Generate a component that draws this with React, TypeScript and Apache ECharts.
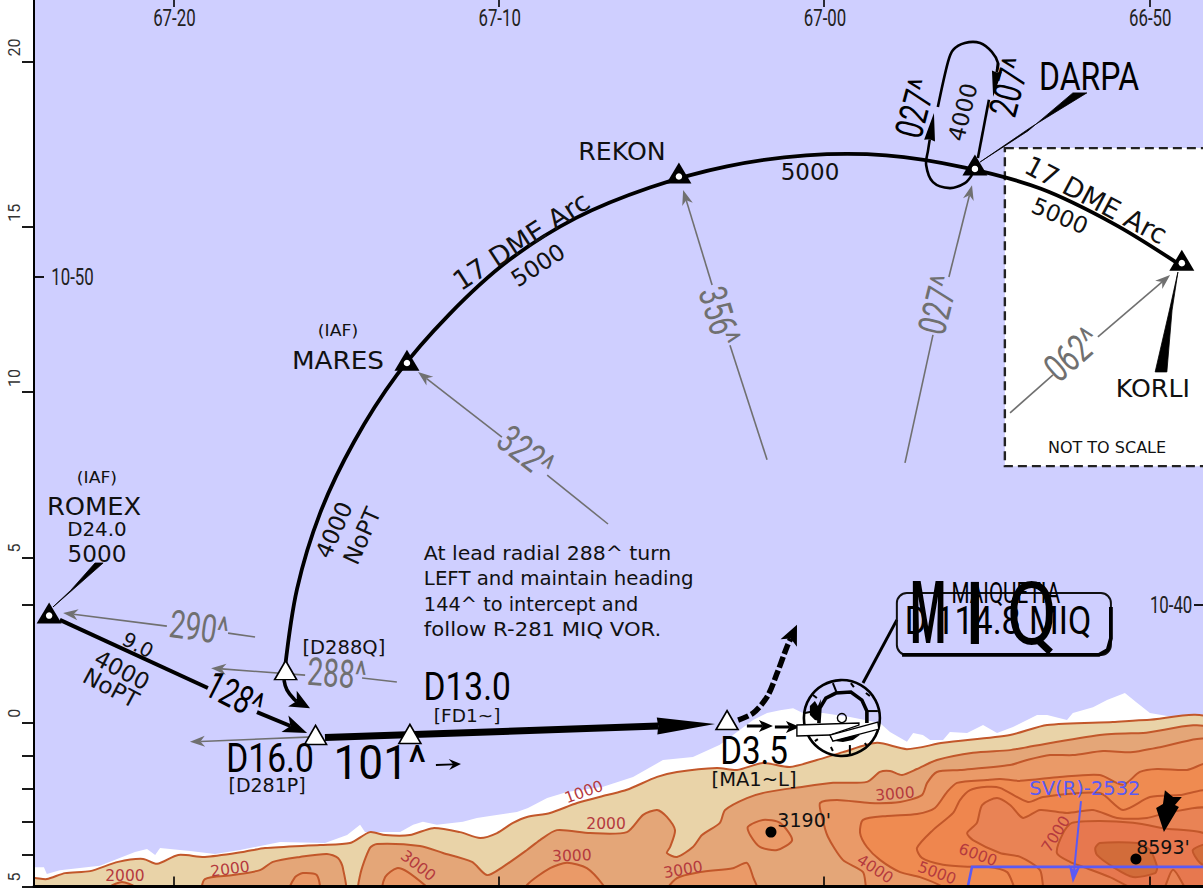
import React, { useEffect, useRef } from "react";
import * as echarts from "echarts";

type P = number[];

// ---- axes (longitude / latitude minutes) ----
const lonTicks = [-20, -10, 0, 10];
const lonTickLabels = ["67-20", "67-10", "67-00", "66-50"];
const lonLabelLat = 21.32;
const latLabelTicks = [20, 15, 10, 5, 0, -4.955];
const latTicks = [20, 15, 10, 5, 3.56, 0, -1, -2, -3, -4, -4.955];
const lat1050 = 13.48;
const lat1040 = 3.56;
const latMinuteTexts: any[][] = [[-23.1, lat1050, "10-50"], [10.67, lat1040, "10-40"]];

// ---- terrain ----
const coastWhite: P[] = [[-24.28,-4.37],[-23.98,-4.37],[-23.89,-4.58],[-23.49,-4.46],[-22.26,-4.33],[-21.18,-3.91],[-20.81,-3.82],[-20.56,-4.0],[-20.41,-3.79],[-19.49,-3.88],[-18.72,-3.97],[-17.95,-3.85],[-16.72,-3.61],[-15.34,-3.64],[-14.66,-3.4],[-14.26,-3.09],[-14.11,-3.31],[-13.03,-3.31],[-12.63,-3.09],[-12.33,-3.0],[-11.9,-3.09],[-11.1,-3.0],[-10.67,-2.88],[-10.27,-2.82],[-9.44,-2.7],[-9.1,-2.58],[-8.51,-2.28],[-7.9,-2.1],[-6.79,-1.94],[-5.87,-1.64],[-4.95,-1.13],[-4.03,-1.04],[-3.2,-0.67],[-2.18,0.08],[-1.75,0.29],[-1.35,0.38],[-0.95,0.44],[-0.65,0.29],[-0.03,0.29],[0.8,0.17],[1.72,-0.01],[2.03,-0.28],[2.55,-0.58],[2.74,-0.31],[3.04,-0.37],[3.26,-0.52],[3.66,-0.52],[3.87,-0.28],[4.4,-0.31],[4.89,-0.07],[5.32,-0.31],[5.81,-0.13],[6.55,0.23],[6.86,0.23],[7.47,0.08],[7.65,0.29],[8.27,0.47],[8.7,0.69],[9.25,0.9],[9.62,0.6],[10.02,0.29],[10.73,0.17],[11.87,0.17],[12,-5.5],[-24.5,-5.5]];
const band1000: P[] = [[-24.5,-4.7],[-24.25,-4.7],[-23.89,-4.73],[-23.33,-4.55],[-22.56,-4.49],[-21.7,-4.21],[-20.93,-4.12],[-20.5,-4.27],[-19.85,-4.0],[-19.03,-4.06],[-17.86,-3.91],[-17.18,-3.79],[-15.49,-3.7],[-14.57,-3.64],[-13.96,-3.31],[-13.49,-3.4],[-12.73,-3.4],[-12.02,-3.19],[-11.19,-3.31],[-10.57,-3.49],[-10.05,-3.34],[-9.56,-3.03],[-9.13,-2.85],[-8.42,-2.73],[-7.59,-2.43],[-6.67,-2.19],[-6.06,-2.03],[-5.13,-1.64],[-4.52,-1.49],[-3.29,-1.37],[-2.67,-1.43],[-1.88,-1.22],[-1.05,-1.34],[-0.22,-1.13],[0.58,-0.89],[1.63,-0.61],[2.55,-0.8],[3.66,-0.61],[5.72,-0.37],[6.86,-0.07],[8.88,0.02],[9.93,0.08],[11.87,0.08],[12,-5.5],[-24.5,-5.5]];
const hill2000a: P[] = [[-21.95,-5.2],[-21.95,-4.97],[-21.58,-4.82],[-21.18,-4.97],[-21.18,-5.2]];
const hill2000b: P[] = [[-19.09,-5.2],[-19.03,-4.73],[-18.17,-4.61],[-17.34,-4.46],[-16.94,-4.21],[-16.11,-4.06],[-15.28,-3.97],[-14.94,-4.09],[-14.79,-4.39],[-14.76,-5.2]];
const band2000: P[] = [[-14.26,-5.2],[-14.26,-4.61],[-13.96,-3.79],[-13.74,-3.67],[-12.42,-3.73],[-11.71,-3.94],[-10.82,-4.21],[-10.36,-4.61],[-9.87,-4.36],[-9.13,-3.85],[-8.73,-3.55],[-8.21,-3.25],[-7.19,-3.34],[-6.06,-3.31],[-5.56,-2.79],[-5.13,-2.64],[-4.83,-2.85],[-4.58,-3.25],[-4.73,-3.76],[-4.83,-3.94],[-4.52,-4.06],[-4.03,-3.76],[-3.75,-3.4],[-3.2,-3.03],[-3.04,-2.64],[-2.37,-2.28],[-1.75,-2.1],[-0.74,-1.95],[0.28,-1.82],[1.32,-1.79],[1.72,-1.49],[2.03,-1.46],[2.4,-1.58],[2.86,-1.4],[3.47,-1.13],[4.58,-0.91],[5.72,-0.83],[6.24,-0.74],[8.48,-0.37],[9.81,-0.31],[11.87,-0.22],[12,-5.5]];
const hill3000a: P[] = [[-16.48,-5.2],[-16.26,-4.67],[-16.02,-4.55],[-15.59,-4.61],[-15.52,-5.2]];
const hill3000b: P[] = [[-13.56,-5.2],[-13.49,-4.67],[-13.13,-4.4],[-12.79,-4.52],[-12.2,-4.97],[-11.96,-5.2]];
const hill3000c: P[] = [[-9.13,-5.2],[-9.13,-4.91],[-8.42,-4.4],[-7.9,-4.24],[-7.29,-4.4],[-6.79,-4.91],[-6.67,-5.2]];
const hill3000d: P[] = [[-4.89,-5.2],[-4.52,-4.7],[-3.81,-4.52],[-2.8,-4.4],[-2.37,-4.24],[-2.18,-4.67],[-2.03,-5.2]];
const hill3190: P[] = [[-2.34,-3.15],[-1.88,-2.94],[-1.35,-3.03],[-0.98,-3.55],[-1.44,-3.85],[-1.97,-3.76],[-2.27,-3.4]];
const band3000: P[] = [[1.41,-5.2],[1.2,-4.52],[0.58,-4.15],[0.12,-3.45],[-0.06,-2.85],[-0.12,-2.43],[0.4,-2.34],[1.41,-2.43],[2.34,-2.4],[3.01,-2.19],[3.17,-1.82],[3.47,-1.49],[4.18,-1.43],[5.72,-1.28],[6.24,-1.13],[6.95,-0.98],[7.65,-0.98],[8.58,-0.86],[9.5,-0.89],[10.33,-0.74],[11.87,-0.58],[12,-5.5]];
const band4000: P[] = [[1.11,-3.34],[1.2,-2.94],[1.94,-2.82],[2.86,-2.76],[3.41,-2.58],[3.78,-2.1],[4.09,-1.82],[5.01,-1.73],[5.41,-1.7],[6.03,-1.76],[7.25,-1.64],[8.48,-1.58],[9.19,-1.88],[9.71,-1.49],[10.24,-1.4],[11.16,-1.43],[11.87,-1.25],[12,-5.5],[3.87,-5.2],[3.66,-4.97],[2.95,-4.67],[2.34,-4.52],[1.72,-4.15],[1.32,-3.76]];
const band5000: P[] = [[2.86,-3.79],[3.35,-3.25],[3.97,-2.73],[4.18,-2.34],[4.49,-2.04],[5.01,-1.94],[5.41,-1.97],[6.27,-2.4],[6.73,-2.25],[8.48,-2.13],[9.19,-2.64],[10.02,-2.25],[10.94,-2.19],[11.87,-2.1],[12,-5.5],[6.03,-5.2],[5.63,-4.52],[5.01,-4.36],[4.4,-4.36],[3.66,-4.3],[3.01,-4.09]];
const band6000: P[] = [[4.4,-3.34],[4.7,-3.03],[4.86,-2.49],[5.32,-2.28],[5.72,-2.49],[6.12,-2.88],[6.64,-2.64],[7.47,-2.73],[8.27,-2.64],[9.01,-2.88],[9.93,-2.88],[10.54,-2.73],[11.87,-2.64],[12,-5.5],[6.86,-5.2],[6.64,-4.46],[6.03,-4.06],[5.41,-3.94],[4.58,-3.55]];
const band7000: P[] = [[7.16,-3.94],[7.35,-3.34],[7.62,-3.03],[8.48,-2.97],[9.5,-3.03],[10.42,-3.19],[11.87,-3.46],[12,-5.5],[11.25,-5.2],[10.73,-4.45],[10.33,-5.2],[9.41,-4.97],[8.79,-4.67],[7.96,-4.36],[7.56,-4.21]];
const hill8000a: P[] = [[8.34,-3.79],[8.48,-3.64],[9.62,-3.64],[10.02,-3.85],[10.24,-4.36],[10.18,-4.55],[9.5,-4.67],[8.88,-4.36],[8.39,-4.0]];
const hill8000b: P[] = [[12,-3.64],[11.34,-3.85],[11.56,-4.24],[12,-4.4]];

// ---- route geometry ----
const dmeArc: P[] = [[-16.57,1.65],[-16.2,4.04],[-15.49,6.34],[-14.45,8.49],[-13.13,10.52],[-11.54,12.33],[-9.71,13.97],[-7.62,15.27],[-5.35,16.19],[-2.98,16.83],[-0.55,17.16],[1.91,17.16],[4.33,16.79],[6.67,16.15],[8.91,15.09],[10.85,13.91]];
const romexLegA: P[] = [[-23.49,3.11],[-18.94,1.05]];
const romexLegB: P[] = [[-17.43,0.32],[-15.89,-0.31]];
const turnIn: P[] = [[-16.6,1.29],[-16.51,0.99],[-16.27,0.69],[-15.8,0.44]];
const finalLeg: P[] = [[-15.34,-0.45],[-5.1,-0.1],[-3.35,-0.04]];
const missedLeg: P[] = [[-2.64,0.08],[-2.18,0.29],[-1.75,0.78],[-1.44,1.5],[-1.14,2.29],[-0.83,2.96]];
const flow1: P[] = [[-2.37,-0.1],[-1.57,-0.1]];
const flow2: P[] = [[-1.51,-0.13],[-0.74,-0.13]];
const flow3: P[] = [[-11.93,-1.28],[-11.16,-1.25]];
const holdOut: P[] = [[3.5,18.62],[3.81,19.98],[3.97,20.35],[4.33,20.56],[4.8,20.56],[5.16,20.29],[5.35,19.95],[5.32,19.74],[5.2,18.93]];
const holdRight: P[] = [[5.07,18.84],[4.73,17.08]];
const holdIn: P[] = [[4.55,16.57],[4.33,16.32],[3.87,16.17],[3.35,16.35],[3.14,16.87],[3.2,17.32],[3.38,18.44]];
const gray290: P[][] = [[[-17.49,2.59],[-18.32,2.71]],[[-20.2,2.92],[-23.39,3.32]]];
const gray288: P[][] = [[[-13.13,1.23],[-14.2,1.35]],[[-15.95,1.44],[-18.84,1.65]]];
const gray281: P[] = [[-15.71,-0.43],[-19.49,-0.58]];
const gray322: P[][] = [[[-6.64,6.01],[-8.51,7.49]],[[-9.9,8.64],[-12.48,10.61]]];
const gray356: P[][] = [[[-1.75,7.95],[-2.89,11.42]],[[-3.44,13.24],[-4.33,16.11]]];
const gray027: P[][] = [[[2.49,7.86],[3.35,11.73]],[[3.84,13.48],[4.55,16.26]]];
const gray062: P[][] = [[[5.72,9.37],[7.04,10.52]],[[8.42,11.67],[10.64,13.54]]];
const romexFeather: P[] = [[-23.7,3.5],[-23.06,4.05],[-22.16,4.83],[-22.41,4.83],[-23.16,4.0]];
const darpaFeather: P[] = [[4.8,16.96],[6.36,18.01],[8.08,19.05],[7.65,19.05],[6.27,17.9]];
const korliFeather: P[] = [[10.88,13.63],[10.7,12.48],[10.54,10.61],[10.18,10.61],[10.62,12.48]];
const notchArrow: P[] = [[10.48,-2.04],[10.73,-2.25],[11,-2.25],[10.79,-2.49],[10.91,-2.55],[10.45,-3.31],[10.21,-2.58],[10.42,-2.46]];
const insetBox: P[] = [[5.56,17.38],[12.2,17.38],[12.2,7.76],[5.56,7.76]];
const vorLeader: P[] = [[1.2,1.2],[2.24,3.11]];
const freqBoxCorners: P[] = [[2.24,3.92],[8.82,2.05]];
const freqBoxHeavy: P[] = [[2.4,2.05],[8.45,2.05],[8.72,2.2],[8.82,2.55],[8.82,3.5]];
const sectorLine: P[] = [[4.4,-5.06],[4.55,-4.36],[11.87,-4.36]];
const sectorArrow: P[] = [[7.9,-2.37],[7.65,-4.85]];
const vorCentre: P[] = [[0.55, 0.14]];

// ---- points ----
const fixes: P[] = [[-23.82,3.32],[-12.82,10.96],[-4.46,16.63],[4.64,16.87],[11,13.99]];
const fixCentres: P[] = [[-23.82,3.24],[-12.82,10.88],[-4.46,16.52],[4.64,16.75],[11,13.9]];
const stepdowns: P[] = [[-16.55,1.59],[-15.63,-0.37],[-12.73,-0.34],[-2.98,0.08]];
const spotHeights: P[] = [[-1.63,-3.31],[9.59,-4.12]];

// ---- texts: [lon, lat, text] ----
const plainTexts: any[][] = [
  [-14.94,11.85,"(IAF)"],[-14.94,10.97,"MARES"],[-22.35,7.4,"(IAF)"],[-22.44,6.56,"ROMEX"],[-22.35,5.83,"D24.0"],[-22.35,5.1,"5000"],
  [-6.21,17.27,"REKON"],[-9.31,14.57,"17 DME Arc"],[-8.79,13.84,"5000"],[-0.43,16.66,"5000"],[8.36,15.81,"17 DME Arc"],[7.25,15.33,"5000"],
  [-15.06,5.83,"4000"],[-14.2,5.65,"NoPT"],[-21.09,2.35,"9.0"],[-21.58,1.59,"4000"],[-21.92,1.05,"NoPT"],
  [-14.76,2.26,"[D288Q]"],[-17.12,-1.88,"[D281P]"],[-10.97,0.23,"[FD1~]"],[-2.15,-1.73,"[MA1~L]"],
  [10.11,10.09,"KORLI"],[8.7,8.31,"NOT TO SCALE"],[4.27,18.47,"4000"],[-0.61,-2.94,"3190'"],[10.42,-3.76,"8593'"],
];
// size, rotation, x stretch for plainTexts, same order
const plainLook: number[][] = [
  [15,0,1.15],[25,0,1.05],[15,0,1.15],[25,0,1.03],[19.5,0,1.02],[22.5,0,1.03],
  [24.5,0,1.03],[27,33,1],[23,33,1],[23,0,1],[27,-28,1],[23,-23,1],
  [23,66,1],[23,66,1],[20,-28,1],[23,-28,1],[23,-28,1],
  [19.5,0,1],[19,0,1],[18.5,0,1],[19.5,0,1],
  [24.5,0,1.03],[16,0,1],[23,76,1],[19,0,1],[19,0,1],
];
const noteLines = ["At lead radial 288^ turn","LEFT and maintain heading","144^ to intercept and","follow R-281 MIQ VOR."];
const noteLon = -12.3;
const noteLats = [5.1,4.35,3.59,2.83];
const noteStretch = [1.1,1.063,1.04,1.14];
const sectorText: any[] = [8.02,-1.98,"SV(R)-2532"];
const contourTexts: any[][] = [[-21.49,-4.64,"2000"],[-18.26,-4.43,"2000"],[-12.48,-4.33,"3000"],[-7.38,-2.1,"1000"],[-6.7,-3.06,"2000"],[-7.75,-4.03,"3000"],[-4.33,-4.45,"3000"],[2.18,-2.16,"3000"],[1.57,-4.43,"4000"],[3.47,-4.55,"5000"],[4.73,-4,"6000"],[7.13,-3.37,"7000"]];
const contourRot = [0,8,-38,20,0,2,10,5,-33,-20,-20,58];
const bearingTexts: any[][] = [[-19.21,2.89,"290^"],[-14.97,1.5,"288^"],[-9.16,8.19,"322^"],[-3.2,12.3,"356^"],[3.5,12.64,"027^"],[7.62,11.15,"062^"]];
const bearingRot = [-8,-4,-38,-73,76,41];
const courseTexts: any[][] = [[-18.11,0.84,"128^"],[2.8,18.59,"027^"],[5.69,19.23,"207^"]];
const courseRot = [-27,75,75];
const narrowTexts: any[][] = [[8.15,19.53,"DARPA"],[-17.03,-1.07,"D16.0"],[-13.65,-1.19,"101^"],[-10.97,1.08,"D13.0"],[-2.15,-0.83,"D3.5"],[5.59,3.95,"MAIQUETIA"],[5.35,3.08,"D 114.8 MIQ"],[3.2,3.29,"M"],[4.64,3.29,"I"],[6.39,3.29,"Q"]];
const narrowLook: number[][] = [[39,0.82],[40,0.84],[49,0.9],[39,0.86],[39,0.85],[30,0.69],[39,0.87],[87,0.47],[87,1],[87,0.85]];

const X_MIN = -24.285, X_MAX = 11.651, Y_MIN = -4.955, Y_MAX = 21.86;
const NARROW = "Roboto";
const WIDE = "'DejaVu Sans'";
const LINE_ORANGE = "#C2572A";
const CONTOUR_RED = "#B53A3E";
const BLUE = "#5A5AF5";
const GRAY = "#707070";

const px = (api: any, pts: P[]) => pts.map((p) => api.coord(p));

function head(tip: number[], prev: number[], len: number, half: number, notch: number) {
  const dx = tip[0] - prev[0], dy = tip[1] - prev[1];
  const d = Math.hypot(dx, dy) || 1;
  const ux = dx / d, uy = dy / d;
  const bx = tip[0] - ux * len, by = tip[1] - uy * len;
  const nx = tip[0] - ux * len * (1 - notch), ny = tip[1] - uy * len * (1 - notch);
  return {
    points: [tip, [bx - uy * half, by + ux * half], [nx, ny], [bx + uy * half, by - ux * half]],
    back: [nx, ny],
  };
}

type Draw = (api: any) => any;
interface Shape { at: P; draw: Draw }

const fillShape = (pts: P[], fill: string, stroke: string | null, lineWidth = 2, smooth = 0.25): Shape => ({
  at: pts[0],
  draw: (api) => ({
    type: "polygon",
    shape: { points: px(api, pts), smooth },
    style: { fill, stroke: stroke ?? "none", lineWidth, lineJoin: "round" },
  }),
});

const stroke = (pts: P[], color: string, lineWidth: number, smooth = 0, dash?: number[]): Shape => ({
  at: pts[0],
  draw: (api) => ({
    type: "polyline",
    shape: { points: px(api, pts), smooth },
    style: { fill: "none", stroke: color, lineWidth, lineDash: dash, lineCap: "butt" },
  }),
});

const arrow = (pts: P[], color: string, lineWidth: number, len: number, half: number, notch: number, smooth = 0, dash?: number[]): Shape => ({
  at: pts[0],
  draw: (api) => {
    const q = px(api, pts);
    const h = head(q[q.length - 1], q[q.length - 2], len, half, notch);
    const line = q.slice(0, -1).concat([h.back]);
    return {
      type: "group",
      children: [
        { type: "polyline", shape: { points: line, smooth }, style: { fill: "none", stroke: color, lineWidth, lineDash: dash, lineCap: "butt" } },
        { type: "polygon", shape: { points: h.points }, style: { fill: color } },
      ],
    };
  },
});

const label = (t: any[], size: number, rot: number, sx: number, color: string, font: string, align = "center", weight = "normal"): Shape => ({
  at: [t[0], t[1]],
  draw: (api) => {
    const c = api.coord([t[0], t[1]]);
    return {
      type: "text",
      x: c[0],
      y: c[1],
      rotation: (rot * Math.PI) / 180,
      scaleX: sx,
      style: { text: t[2], fontFamily: font, fontSize: size, fontWeight: weight, fill: color, align, verticalAlign: "middle" },
    };
  },
});

const vorGlyph: Shape = {
  at: vorCentre[0],
  draw: (api) => {
    const c = api.coord(vorCentre[0]);
    const ln = (a: number[], b: number[], w = 2) => ({ type: "line", shape: { x1: a[0], y1: a[1], x2: b[0], y2: b[1] }, style: { stroke: "#000", lineWidth: w } });
    const spokes = [[[-9,-35],[-5,-25]],[[36,-7],[25,-7]],[[-37,-5],[-22,-8]],[[8,27],[8,37]],[[-29,-23],[-25,-20]],[[9,-35],[12,-31]],[[24,-25],[28,-22]],[[23,25],[25,28]],[[-11,29],[-9,33]],[[-27,23],[-24,21]]];
    return {
      type: "group",
      x: c[0],
      y: c[1],
      children: [
        { type: "circle", shape: { cx: 0, cy: 0, r: 38 }, style: { fill: "none", stroke: "#000", lineWidth: 2.6 } },
        { type: "polyline", shape: { points: [[-23,5],[-22,-10],[-16,-20],[-6,-25],[9,-26],[20,-18],[25,-7],[25,5]] }, style: { fill: "none", stroke: "#000", lineWidth: 3.6 } },
        ...spokes.map((s) => ln(s[0], s[1])),
        { type: "polygon", shape: { points: [[-32,-12],[-27,-17],[-24,-12],[-21,-19],[-22,3],[-27,2],[-32,-3]] }, style: { fill: "#000" } },
        { type: "polygon", shape: { points: [[-12,19],[18,17],[11,22],[1,24],[-7,23]] }, style: { fill: "#000" } },
        { type: "polygon", shape: { points: [[-45,7],[17,5],[17,7],[-12,17],[-45,18]] }, style: { fill: "#fff", stroke: "#000", lineWidth: 1.4 } },
        { type: "polygon", shape: { points: [[-12,17],[36,4],[37,11],[-9,23]] }, style: { fill: "#fff", stroke: "#000", lineWidth: 1.4 } },
        { type: "circle", shape: { cx: 0, cy: 0, r: 4.5 }, style: { fill: "none", stroke: "#000", lineWidth: 1.4 } },
      ],
    };
  },
};

const freqBox: Shape = {
  at: freqBoxCorners[0],
  draw: (api) => {
    const a = api.coord(freqBoxCorners[0]);
    const b = api.coord(freqBoxCorners[1]);
    return {
      type: "rect",
      shape: { x: a[0], y: a[1], width: b[0] - a[0], height: b[1] - a[1], r: 10 },
      style: { fill: "none", stroke: "#111", lineWidth: 2 },
    };
  },
};

const terrain: Shape[] = [
  fillShape(coastWhite, "#FFFFFF", null, 0, 0),
  fillShape(band1000, "#E9D3A8", LINE_ORANGE),
  fillShape(hill2000a, "#E4A678", LINE_ORANGE),
  fillShape(hill2000b, "#E4A678", LINE_ORANGE),
  fillShape(band2000, "#E4A678", LINE_ORANGE),
  fillShape(hill3000a, "#EA9A68", LINE_ORANGE),
  fillShape(hill3000b, "#EA9A68", LINE_ORANGE),
  fillShape(hill3000c, "#EA9A68", LINE_ORANGE),
  fillShape(hill3000d, "#EA9A68", LINE_ORANGE),
  fillShape(hill3190, "#EA9A68", LINE_ORANGE),
  fillShape(band3000, "#EA9A68", LINE_ORANGE),
  fillShape(band4000, "#EF8B51", LINE_ORANGE),
  fillShape(band5000, "#EF864E", LINE_ORANGE),
  fillShape(band6000, "#E98355", LINE_ORANGE),
  fillShape(band7000, "#E7784F", LINE_ORANGE),
  fillShape(hill8000a, "#D26C3A", LINE_ORANGE),
  fillShape(hill8000b, "#D26C3A", LINE_ORANGE),
];

const grayArrow = (segs: P[][]): Shape[] => [stroke(segs[0], GRAY, 1.6), arrow(segs[1], GRAY, 1.6, 15, 5.5, 0.3)];

const routes: Shape[] = [
  { at: insetBox[0], draw: (api) => ({ type: "polygon", shape: { points: px(api, insetBox) }, style: { fill: "#FFFFFF", stroke: "#222", lineWidth: 2.4, lineDash: [9, 5] } }) },
  stroke(sectorLine, BLUE, 2.6),
  arrow(sectorArrow, BLUE, 2, 18, 6, 0.3),
  ...grayArrow(gray290),
  ...grayArrow(gray288),
  arrow(gray281, GRAY, 1.6, 15, 5.5, 0.3),
  ...grayArrow(gray322),
  ...grayArrow(gray356),
  ...grayArrow(gray027),
  ...grayArrow(gray062),
  stroke(dmeArc, "#000", 3.8, 0.33),
  stroke(romexLegA, "#000", 4),
  arrow(romexLegB, "#000", 4, 24, 9, 0.25),
  arrow(turnIn, "#000", 3.6, 20, 9, 0.25, 0.4),
  arrow(finalLeg, "#000", 7, 58, 8.5, 0.02),
  arrow(missedLeg, "#000", 5.5, 20, 9, 0.25, 0.3, [11, 3]),
  arrow(flow1, "#000", 3, 14, 6, 0.25),
  arrow(flow2, "#000", 3, 14, 6, 0.25),
  arrow(flow3, "#000", 1.8, 12, 5.5, 0.35),
  stroke(holdOut.slice(0, 8), "#000", 2.6, 0.33),
  arrow(holdOut.slice(6), "#000", 2.6, 26, 5, 0.05),
  stroke(holdRight, "#000", 2.6),
  arrow(holdIn, "#000", 2.6, 28, 5.5, 0.05, 0.33),
  fillShape(romexFeather, "#000", "#000", 0.8, 0),
  fillShape(darpaFeather, "#000", "#000", 0.8, 0),
  fillShape(korliFeather, "#000", "#000", 0.8, 0),
  fillShape(notchArrow, "#000", null, 0, 0),
  stroke(vorLeader, "#000", 3),
  vorGlyph,
  freqBox,
  stroke(freqBoxHeavy, "#000", 3.8),
];

const texts: Shape[] = [
  ...plainTexts.map((t, i) => label(t, plainLook[i][0], plainLook[i][1], plainLook[i][2], "#111", WIDE)),
  ...noteLines.map((s, i) => label([noteLon, noteLats[i], s], 18.6, 0, noteStretch[i], "#111", WIDE, "left")),
  label(sectorText, 19.5, 0, 1, BLUE, WIDE),
  ...contourTexts.map((t, i) => label(t, 15.5, contourRot[i], 1, CONTOUR_RED, WIDE)),
  ...bearingTexts.map((t, i) => label(t, 39, bearingRot[i], 0.72, GRAY, NARROW)),
  ...courseTexts.map((t, i) => label(t, 39, courseRot[i], 0.72, "#000", NARROW)),
  ...narrowTexts.map((t, i) => label(t, narrowLook[i][0], 0, narrowLook[i][1], "#000", NARROW, "center", t[2] === "M" ? "bold" : "normal")),
  ...lonTicks.map((v, i) => label([v + 0.03, lonLabelLat, lonTickLabels[i]], 24, 0, 0.7, "#222", NARROW)),
  ...latMinuteTexts.map((t) => label(t, 24, 0, 0.7, "#222", NARROW)),
];

const customSeries = (name: string, shapes: Shape[], z: number) => ({
  type: "custom",
  name,
  coordinateSystem: "cartesian2d",
  clip: true,
  silent: true,
  z,
  encode: { x: 0, y: 1 },
  data: shapes.map((s, i) => [s.at[0], s.at[1], i]),
  renderItem: (_: any, api: any) => shapes[api.value(2)].draw(api),
});

export default function App() {
  const ref = useRef<HTMLDivElement>(null);
  useEffect(() => {
    if (!ref.current) return;
    const chart = echarts.init(ref.current, undefined, { renderer: "svg" });
    const yBase = { type: "value", min: Y_MIN, max: Y_MAX, splitLine: { show: false }, z: 20 };
    const xBase = { type: "value", min: X_MIN, max: X_MAX, splitLine: { show: false }, z: 20 };
    chart.setOption({
      animation: false,
      backgroundColor: "#FFFFFF",
      grid: { left: 34, top: 0, width: 1169, height: 886.5, show: true, backgroundColor: "#CFCFFF", borderWidth: 0 },
      xAxis: [
        {
          ...xBase,
          position: "bottom",
          axisLine: { show: true, onZero: false, lineStyle: { color: "#000", width: 3 } },
          axisTick: { show: true, inside: true, length: 10, customValues: lonTicks, lineStyle: { color: "#000", width: 1.6 } },
          axisLabel: { show: false },
        },
        {
          ...xBase,
          position: "top",
          axisLine: { show: false, onZero: false },
          axisTick: { show: true, inside: true, length: 7, customValues: lonTicks, lineStyle: { color: "#000", width: 1.6 } },
          axisLabel: { show: false },
        },
      ],
      yAxis: [
        {
          ...yBase,
          position: "left",
          axisLine: { show: true, onZero: false, lineStyle: { color: "#000", width: 2 } },
          axisTick: { show: true, length: 12, customValues: latTicks, lineStyle: { color: "#000", width: 1.8 } },
          axisLabel: {
            show: true, customValues: latLabelTicks, rotate: 90, margin: 12, align: "left", verticalAlign: "bottom", padding: [0, 0, 0, 5],
            formatter: (v: number) => String(Math.abs(Math.round(v))), fontFamily: "Roboto", fontSize: 16, color: "#333",
          },
        },
        {
          ...yBase,
          position: "left",
          axisLine: { show: false, onZero: false },
          axisTick: { show: true, inside: true, length: 10, customValues: [lat1050], lineStyle: { color: "#000", width: 1.8 } },
          axisLabel: { show: false },
        },
        {
          ...yBase,
          position: "right",
          axisLine: { show: false, onZero: false },
          axisTick: { show: true, inside: true, length: 9, customValues: [lat1040], lineStyle: { color: "#000", width: 1.8 } },
          axisLabel: { show: false },
        },
      ],
      series: [
        customSeries("terrain", terrain, 1),
        customSeries("routes", routes, 2),
        { type: "scatter", name: "spot heights", z: 3, silent: true, symbol: "circle", symbolSize: 11, itemStyle: { color: "#000", opacity: 1 }, data: spotHeights },
        { type: "scatter", name: "fixes", z: 4, silent: true, symbol: "triangle", symbolSize: [25, 21], itemStyle: { color: "#000", opacity: 1 }, data: fixes },
        { type: "scatter", name: "fix centres", z: 5, silent: true, symbol: "circle", symbolSize: 6.5, itemStyle: { color: "#fff", opacity: 1 }, data: fixCentres },
        { type: "scatter", name: "stepdowns", z: 4, silent: true, symbol: "triangle", symbolSize: [22, 19], itemStyle: { color: "#fff", borderColor: "#000", borderWidth: 1.6, opacity: 1 }, data: stepdowns },
        customSeries("texts", texts, 6),
      ],
    });
    return () => chart.dispose();
  }, []);
  return <div ref={ref} style={{ position: "absolute", left: 0, top: 0, width: 1203, height: 888 }} />;
}
